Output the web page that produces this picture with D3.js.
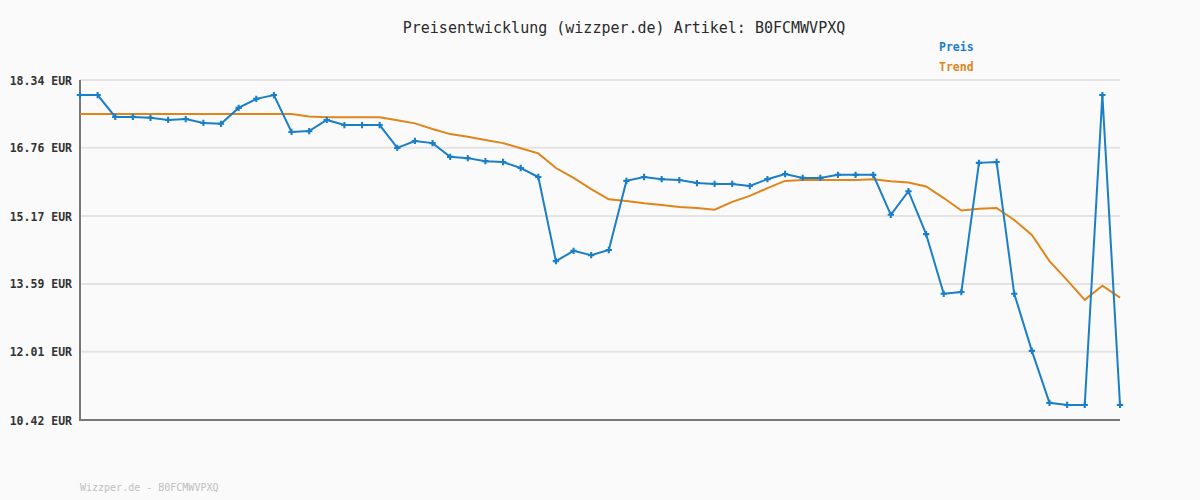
<!DOCTYPE html>
<html>
<head>
<meta charset="utf-8">
<script src="https://cdn.jsdelivr.net/npm/d3@7"></script>
<style>
  html, body { margin: 0; padding: 0; background: #fafafa; }
  svg { display: block; }
</style>
</head>
<body>
<svg id="chart" width="1200" height="500"></svg>
<script>
const titleText = "Preisentwicklung (wizzper.de) Artikel: B0FCMWVPXQ";
const footerText = "Wizzper.de - B0FCMWVPXQ";
const seriesNames = ["Preis", "Trend"];
const yTickValues = [10.42, 12.01, 13.59, 15.17, 16.76, 18.34];
const yTickLabels = ["10.42 EUR", "12.01 EUR", "13.59 EUR", "15.17 EUR", "16.76 EUR", "18.34 EUR"];

const preis = [
  17.99, 17.99, 17.48, 17.48, 17.46, 17.41, 17.43, 17.34, 17.32, 17.69,
  17.90, 17.99, 17.13, 17.15, 17.41, 17.29, 17.29, 17.29, 16.76, 16.92,
  16.87, 16.55, 16.52, 16.45, 16.43, 16.29, 16.08, 14.12, 14.36, 14.26,
  14.38, 15.99, 16.08, 16.03, 16.01, 15.94, 15.92, 15.92, 15.87, 16.03,
  16.15, 16.06, 16.06, 16.13, 16.13, 16.13, 15.20, 15.75, 14.75, 13.36,
  13.40, 16.41, 16.43, 13.36, 12.03, 10.82, 10.77, 10.77, 17.99, 10.77
];
const trend = [
  17.55, 17.55, 17.55, 17.55, 17.55, 17.55, 17.55, 17.55, 17.55, 17.55,
  17.55, 17.55, 17.55, 17.49, 17.47, 17.47, 17.47, 17.47, 17.40, 17.33,
  17.20, 17.08, 17.02, 16.94, 16.87, 16.75, 16.63, 16.29, 16.06, 15.80,
  15.56, 15.52, 15.47, 15.43, 15.38, 15.36, 15.32, 15.50, 15.64, 15.82,
  15.99, 16.01, 16.01, 16.01, 16.01, 16.03, 15.98, 15.95, 15.86, 15.59,
  15.30, 15.34, 15.36, 15.08, 14.73, 14.12, 13.68, 13.22, 13.55, 13.27
];

const colors = { preis: "#1a7fc6", trend: "#e0851a" };
const mono = "'DejaVu Sans Mono', 'Liberation Mono', monospace";

const svg = d3.select("#chart");
const margin = { left: 80, right: 80, top: 80, bottom: 80 };
const W = 1200, H = 500;

const x = d3.scaleLinear().domain([0, preis.length - 1]).range([margin.left, W - margin.right]);
const y = d3.scaleLinear().domain([yTickValues[0], yTickValues[yTickValues.length - 1]]).range([H - margin.bottom, margin.top]);

svg.append("rect").attr("width", W).attr("height", H).attr("fill", "#fafafa");

// grid lines
svg.append("g")
  .selectAll("line")
  .data(yTickValues.slice(1))
  .join("line")
  .attr("x1", x(0)).attr("x2", x(preis.length - 1))
  .attr("y1", d => y(d)).attr("y2", d => y(d))
  .attr("stroke", "#e4e4e4").attr("stroke-width", 2);

// y axis via d3
const yAxis = d3.axisLeft(y).tickValues(yTickValues)
  .tickFormat((d, i) => yTickLabels[i]).tickSize(0).tickPadding(8);
const gy = svg.append("g").attr("transform", `translate(${margin.left},0)`).call(yAxis);
gy.select(".domain").remove();
gy.selectAll("text")
  .attr("font-family", mono).attr("font-size", "11.5px").attr("font-weight", "bold")
  .attr("fill", "#333").attr("dy", "0.35em");

// axis lines
svg.append("line").attr("x1", margin.left).attr("x2", margin.left)
  .attr("y1", y(yTickValues[yTickValues.length - 1])).attr("y2", y(yTickValues[0]) + 1)
  .attr("stroke", "#777").attr("stroke-width", 2);
svg.append("line").attr("x1", margin.left - 1).attr("x2", x(preis.length - 1))
  .attr("y1", y(yTickValues[0])).attr("y2", y(yTickValues[0]))
  .attr("stroke", "#777").attr("stroke-width", 2);

const line = d3.line().x((d, i) => x(i)).y(d => y(d));

svg.append("path").datum(trend).attr("d", line)
  .attr("fill", "none").attr("stroke", colors.trend).attr("stroke-width", 2);

svg.append("path").datum(preis).attr("d", line)
  .attr("fill", "none").attr("stroke", colors.preis).attr("stroke-width", 2);

svg.append("g").selectAll("path")
  .data(preis)
  .join("path")
  .attr("transform", (d, i) => `translate(${x(i)},${y(d)})`)
  .attr("d", d3.symbol(d3.symbolCross, 22))
  .attr("fill", colors.preis);

// title
svg.append("text").attr("x", 624).attr("y", 33).attr("text-anchor", "middle")
  .attr("font-family", mono).attr("font-size", "15px").attr("fill", "#2a2a2a")
  .text(titleText);

// legend
svg.append("text").attr("x", 939).attr("y", 51)
  .attr("font-family", mono).attr("font-size", "11.5px").attr("font-weight", "bold")
  .attr("fill", colors.preis).text(seriesNames[0]);
svg.append("text").attr("x", 939).attr("y", 71)
  .attr("font-family", mono).attr("font-size", "11.5px").attr("font-weight", "bold")
  .attr("fill", colors.trend).text(seriesNames[1]);

// footer
svg.append("text").attr("x", 80).attr("y", 491)
  .attr("font-family", mono).attr("font-size", "10px").attr("fill", "#c0c0c0")
  .text(footerText);
</script>
</body>
</html>
